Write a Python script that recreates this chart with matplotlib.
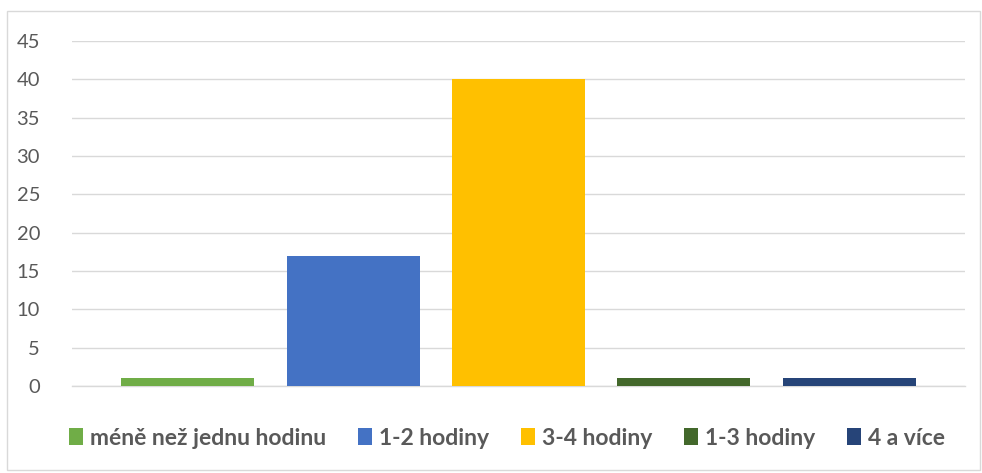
import matplotlib
matplotlib.use("Agg")
import matplotlib.pyplot as plt
from matplotlib.patches import Rectangle, Patch

categories = ["méně než jednu hodinu", "1-2 hodiny", "3-4 hodiny", "1-3 hodiny", "4 a více"]
values = [1, 17, 40, 1, 1]
colors = ["#70AD47", "#4472C4", "#FFC000", "#43682B", "#264478"]
yticks = [0, 5, 10, 15, 20, 25, 30, 35, 40, 45]

plt.rcParams['font.family'] = ['Lato', 'DejaVu Sans']

W, H = 982, 473
fig = plt.figure(figsize=(W/100, H/100), dpi=100)
fig.patch.set_facecolor("white")
fig.patches.append(Rectangle((7/W, 1-470/H), (980-7)/W, (470-11)/H, transform=fig.transFigure,
                             fill=False, edgecolor="#d9d9d9", linewidth=1))

ax = fig.add_axes([72/W, 1-386/H, (965-72)/W, (386-41)/H])
x = list(range(len(categories)))
ax.bar(x, values, width=0.805, color=colors, zorder=3)
ax.set_xlim(-0.7, 4.7)
ax.set_ylim(0, 45)
ax.set_yticks(yticks)
ax.set_yticklabels([str(t) for t in yticks], color="#595959", fontsize=14.5)
ax.set_xticks([])
ax.grid(axis="y", color="#d9d9d9", linewidth=1, zorder=0)
for s in ["top", "right", "left"]:
    ax.spines[s].set_visible(False)
ax.spines["bottom"].set_color("#d9d9d9")
ax.spines["bottom"].set_linewidth(1)
ax.tick_params(axis="y", length=0, pad=23)
ax.tick_params(axis="x", length=0)

handles = [Patch(facecolor=c, edgecolor="none") for c in colors]
leg = fig.legend(handles, categories, loc="center", bbox_to_anchor=(507/W, 1-438/H), ncol=5,
                 frameon=False, handlelength=0.6, handleheight=0.8, handletextpad=0.3,
                 columnspacing=1.4, prop={"weight": "bold", "size": 16.5})
for t in leg.get_texts():
    t.set_color("#595959")

fig.savefig("out.png", dpi=100, facecolor="white")
